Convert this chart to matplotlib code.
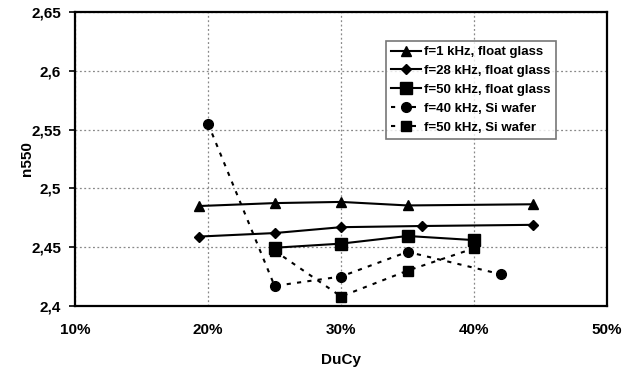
import numpy as np
import matplotlib.pyplot as plt
from matplotlib.ticker import FuncFormatter

plt.rcParams['font.family'] = ['Liberation Sans', 'DejaVu Sans']
plt.rcParams['font.weight'] = 'bold'

# duty cycle (%) and n550 values
x_1k = [19.3, 25, 30, 35, 44.4]
y_1k = [2.485, 2.4875, 2.4885, 2.4855, 2.4865]
x_28k = [19.3, 25, 30, 36.1, 44.4]
y_28k = [2.459, 2.462, 2.467, 2.468, 2.469]
x_50k = [25, 30, 35, 40]
y_50k = [2.4495, 2.453, 2.4595, 2.456]
x_40si = [20, 25, 30, 35, 42]
y_40si = [2.555, 2.417, 2.425, 2.446, 2.427]
x_50si = [25, 30, 35, 40]
y_50si = [2.447, 2.408, 2.43, 2.449]

labels = ['f=1 kHz, float glass', 'f=28 kHz, float glass', 'f=50 kHz, float glass',
          'f=40 kHz, Si wafer', 'f=50 kHz, Si wafer']

fig = plt.figure(figsize=(6.31, 3.69), dpi=100)
ax = fig.add_axes([0.119, 0.171, 0.843, 0.796])

dash = (0, (2.0, 3.0))
ax.plot(x_1k, y_1k, '-', color='black', lw=1.5, marker='^', ms=7, label=labels[0])
ax.plot(x_28k, y_28k, '-', color='black', lw=1.5, marker='D', ms=5, label=labels[1])
ax.plot(x_50k, y_50k, '-', color='black', lw=1.5, marker='s', ms=9, label=labels[2])
ax.plot(x_40si, y_40si, linestyle=dash, color='black', lw=1.5, marker='o', ms=7, label=labels[3])
ax.plot(x_50si, y_50si, linestyle=dash, color='black', lw=1.5, marker='s', ms=7, label=labels[4])

ax.set_xlim(10, 50)
ax.set_ylim(2.4, 2.65)
ax.set_xticks([10, 20, 30, 40, 50])
ax.set_yticks([2.4, 2.45, 2.5, 2.55, 2.6, 2.65])
ax.xaxis.set_major_formatter(FuncFormatter(lambda v, p: f'{v:.0f}%'))
ax.yaxis.set_major_formatter(FuncFormatter(lambda v, p: f'{v:.2f}'.rstrip('0').replace('.', ',')))
ax.tick_params(axis='both', labelsize=11, length=4, width=1.2, colors='black', pad=6)
ax.tick_params(axis='x', length=0, pad=12)
ax.grid(True, color='#888888', linestyle=(0, (1.5, 2)), linewidth=0.9)

for sp in ax.spines.values():
    sp.set_linewidth(1.6)
    sp.set_color('black')

ax.set_xlabel('DuCy', fontsize=11, fontweight='bold', labelpad=12)
ax.set_ylabel('n550', fontsize=11, fontweight='bold', labelpad=-2)

leg = ax.legend(loc='upper left', bbox_to_anchor=(0.584, 0.903), fontsize=9.5,
                frameon=True, fancybox=False, handlelength=2.3, handletextpad=0.2,
                borderpad=0.4, labelspacing=0.5, borderaxespad=0)
leg.get_frame().set_edgecolor('#555555')
leg.get_frame().set_linewidth(1.2)

fig.savefig('out.png', dpi=100)
